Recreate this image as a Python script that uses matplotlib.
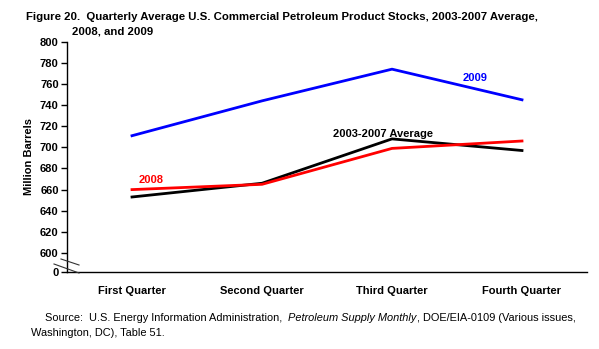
import matplotlib
matplotlib.use("Agg")
import matplotlib.pyplot as plt

plt.rcParams["font.family"] = ["Liberation Sans", "DejaVu Sans"]

quarters = ["First Quarter", "Second Quarter", "Third Quarter", "Fourth Quarter"]
avg_0307 = [653, 666, 708, 697]
y2008 = [660, 665, 699, 706]
y2009 = [711, 744, 774, 745]
yticks = [600, 620, 640, 660, 680, 700, 720, 740, 760, 780, 800]
ybottom = 582  # shown as "0" below the axis break

fig = plt.figure(figsize=(5.99, 3.49), dpi=100)
ax = fig.add_axes([67 / 599, 1 - 272 / 349, 520 / 599, (272 - 41.7) / 349])

x = list(range(len(quarters)))
ax.plot(x, y2009, color="#0000ff", lw=2)
ax.plot(x, avg_0307, color="black", lw=2)
ax.plot(x, y2008, color="#ff0000", lw=2)

ax.set_xlim(-0.5, 3.5)
ax.set_ylim(ybottom, 800)
ax.set_xticks(x)
ax.set_xticklabels(quarters, fontsize=8, fontweight="bold")
ax.tick_params(axis="x", length=0, pad=10)
ax.set_yticks(yticks + [ybottom])
ax.set_yticklabels([str(v) for v in yticks] + ["0"], fontsize=8, fontweight="bold")
ax.tick_params(axis="y", length=4, width=1, pad=2)
for s in ["top", "right"]:
    ax.spines[s].set_visible(False)
for s in ["left", "bottom"]:
    ax.spines[s].set_linewidth(1)

# axis break marks
for (x0, y0), (x1, y1) in [((61, 259), (79, 265)), ((54, 264), (79, 273))]:
    fig.add_artist(plt.Line2D([x0 / 599, x1 / 599], [1 - y0 / 349, 1 - y1 / 349],
                              color="#333333", lw=0.8, transform=fig.transFigure))

ax.set_ylabel("Million Barrels", fontsize=8, fontweight="bold", labelpad=4)

# series labels
ax.text(2.54, 763, "2009", color="#0000ff", fontsize=8, fontweight="bold")
ax.text(1.93, 710, "2003-2007 Average", color="black", fontsize=8, fontweight="bold", ha="center")
ax.text(0.05, 666, "2008", color="#ff0000", fontsize=8, fontweight="bold")

# title
fig.text(26 / 599, 1 - 17 / 349,
         "Figure 20.  Quarterly Average U.S. Commercial Petroleum Product Stocks, 2003-2007 Average,",
         fontsize=8.2, fontweight="bold", va="center")
fig.text(72 / 599, 1 - 32 / 349, "2008, and 2009", fontsize=8.2, fontweight="bold", va="center")

# source, with italic publication name
fig.canvas.draw()
r = fig.canvas.get_renderer()
parts = [("Source:  U.S. Energy Information Administration, ", "normal"),
         ("Petroleum Supply Monthly", "italic"),
         (", DOE/EIA-0109 (Various issues,", "normal")]
xpos = 45
for txt, st in parts:
    t = fig.text(xpos / 599, 1 - 318 / 349, txt, fontsize=7.9, style=st, va="center")
    xpos = t.get_window_extent(r).x1 + (3 if txt.endswith(" ") else 0)
fig.text(31 / 599, 1 - 333 / 349, "Washington, DC), Table 51.", fontsize=7.9, va="center")

fig.savefig("out.png", dpi=100)
